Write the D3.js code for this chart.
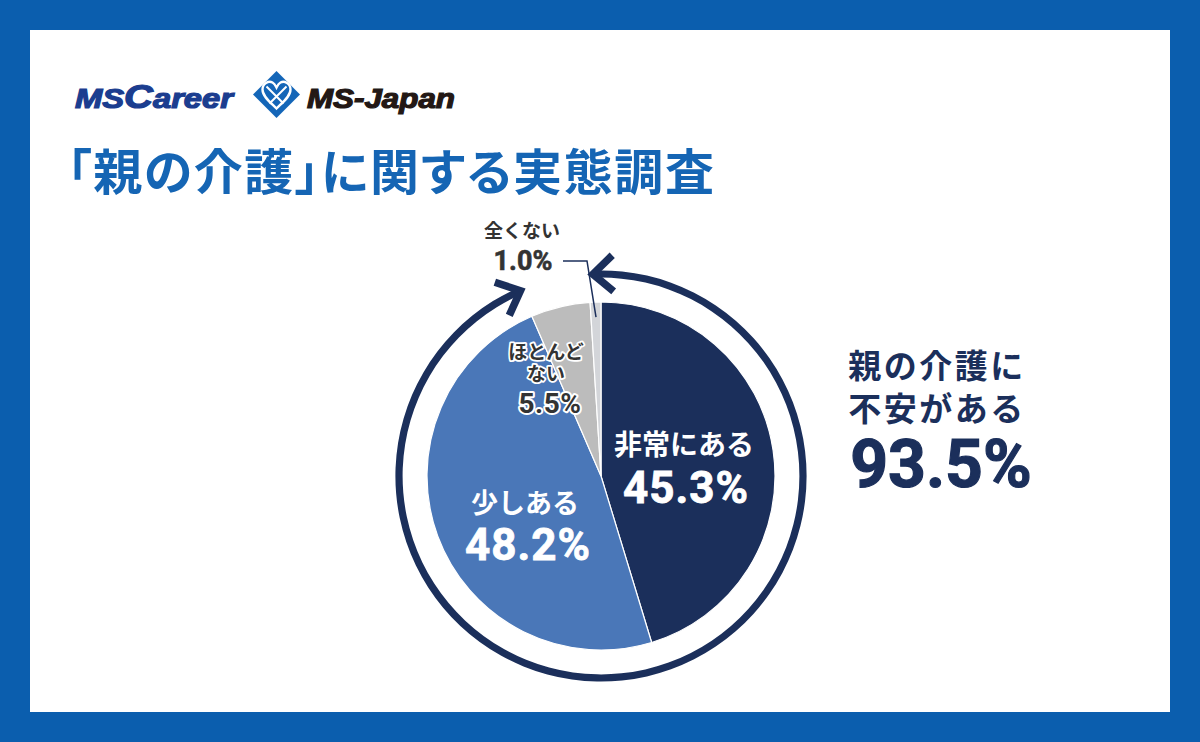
<!DOCTYPE html>
<html><head><meta charset="utf-8">
<script src="https://cdn.jsdelivr.net/npm/d3@7"></script>
<style>
html,body{margin:0;padding:0;background:#0b5eae;}
svg{display:block;}
</style></head>
<body>
<svg id="c" width="1200" height="742"></svg>
<script>
// ---- data ----
const categories = ["非常にある", "少しある", "ほとんどない", "全くない"];
const values = [45.3, 48.2, 5.5, 1.0];
const valueLabels = ["45.3%", "48.2%", "5.5%", "1.0%"];
const colors = ["#1b2f5b", "#4a77b8", "#bcbcbc", "#d3d5d9"];
const totalLabel = "93.5%";
const totalTextLines = ["親の介護に", "不安がある"];
const title = "「親の介護」に関する実態調査";

const svg = d3.select("#c");
const JP = "'Noto Sans CJK JP','Noto Sans',sans-serif";
const NUM = "Roboto,'Noto Sans',sans-serif";
const navy = "#1b2f5b";

// frame
svg.append("rect").attr("x",0).attr("y",0).attr("width",1200).attr("height",742).attr("fill","#0b5eae");
svg.append("rect").attr("x",30).attr("y",30).attr("width",1140).attr("height",682).attr("fill","#fff");

// logo
const mc = svg.append("text").attr("x",75).attr("y",108).attr("font-family","'Liberation Sans',Arial,sans-serif")
  .attr("font-weight",700).attr("font-style","italic").attr("font-size",27).attr("fill","#1b3d8f")
  .attr("stroke","#1b3d8f").attr("stroke-width",1.2).attr("textLength",158).attr("lengthAdjust","spacingAndGlyphs");
mc.append("tspan").text("MS");
mc.append("tspan").attr("font-size",33).text("C");
mc.append("tspan").text("areer");
const lg = svg.append("g").attr("transform","translate(276.5,94.5)");
lg.append("rect").attr("x",-16.6).attr("y",-16.6).attr("width",33.2).attr("height",33.2)
  .attr("transform","rotate(45)").attr("fill","#1466b8");
lg.append("path").attr("d","M0,14 C-6,8 -14,2 -14,-5 C-14,-11 -8,-14 -4,-12 C-2,-11 -1,-9 0,-7 C1,-9 2,-11 4,-12 C8,-14 14,-11 14,-5 C14,2 6,8 0,14 Z")
  .attr("fill","none").attr("stroke","#fff").attr("stroke-width",2.4);
lg.append("path").attr("d","M-10,-8 L7,9 M10,-8 L-7,9").attr("stroke","#fff").attr("stroke-width",2);
svg.append("text").attr("x",307).attr("y",108).attr("font-family","'Liberation Sans',Arial,sans-serif")
  .attr("font-weight",700).attr("font-style","italic").attr("font-size",27).attr("fill","#231815")
  .attr("stroke","#231815").attr("stroke-width",1.2).attr("textLength",148).attr("lengthAdjust","spacingAndGlyphs")
  .text("MS-Japan");

// title
svg.append("text").attr("x",67).attr("y",190).attr("font-family",JP).attr("font-weight",700)
  .attr("font-size",49).attr("fill","#1565b4").style("font-feature-settings","'palt' 1")
  .attr("textLength",647).attr("lengthAdjust","spacing")
  .text(title);

// pie
const cx = 601, cy = 476, R = 174;
const g = svg.append("g").attr("transform",`translate(${cx},${cy})`);
const pie = d3.pie().sort(null).value(d=>d)(values);
const arc = d3.arc().innerRadius(0).outerRadius(R);
g.selectAll("path.s").data(pie).join("path").attr("class","s")
  .attr("d",arc).attr("fill",(d,i)=>colors[i]).attr("stroke","#fff").attr("stroke-width",1.2);

// surrounding arrow ring
const rr = 202;
const deg = Math.PI/180;
const a1 = -2.3*deg, a2 = 2*Math.PI - 23.5*deg;
const ring = d3.arc().innerRadius(rr-3.6).outerRadius(rr+3.6).startAngle(a1+1.2*deg).endAngle(a2-1.2*deg);
g.append("path").attr("d",ring()).attr("fill",navy);
function pt(a,r){return [r*Math.sin(a), -r*Math.cos(a)];}
function chevron(a, dirSign){
  const [x,y] = pt(a,rr);
  const tx = Math.cos(a)*dirSign, ty = Math.sin(a)*dirSign;
  const bx = -tx, by = -ty;
  const L = 27, ang = 42*deg;
  const rot=(vx,vy,t)=>[vx*Math.cos(t)-vy*Math.sin(t), vx*Math.sin(t)+vy*Math.cos(t)];
  const p1 = rot(bx,by,ang), p2 = rot(bx,by,-ang);
  g.append("path").attr("d",`M${x+p1[0]*L},${y+p1[1]*L} L${x},${y} L${x+p2[0]*L},${y+p2[1]*L}`)
    .attr("fill","none").attr("stroke",navy).attr("stroke-width",7.5).attr("stroke-linejoin","miter").attr("stroke-miterlimit",10);
}
chevron(a1,-1);
chevron(a2,1);

// labels
function lbl(x,y,txt,size,fill,family,opts){
  opts = opts||{};
  const t = svg.append("text").attr("x",x).attr("y",y).attr("text-anchor","middle")
    .attr("font-family",family).attr("font-weight",700).attr("font-size",size).attr("fill",fill).text(txt);
  if(opts.halo){ t.attr("stroke","#fff").attr("stroke-width",opts.halo).attr("paint-order","stroke").attr("stroke-linejoin","round"); }
  else if(opts.bold){ t.attr("stroke",fill).attr("stroke-width",opts.bold); }
  if(opts.ls) t.attr("letter-spacing",opts.ls);
  return t;
}
lbl(684,455,categories[0],28,"#fff",JP);
lbl(686,503,valueLabels[0],44,"#fff",NUM,{bold:0.8,ls:1});
lbl(525,513,categories[1],27,"#fff",JP);
lbl(528,560,valueLabels[1],44,"#fff",NUM,{bold:0.8,ls:1});
lbl(546,359,"ほとんど",19,"#333",JP,{halo:3.5});
lbl(546,381,"ない",19,"#333",JP,{halo:3.5});
lbl(550,413,valueLabels[2],28,"#333",NUM,{halo:4,ls:0.5});
lbl(522,238,categories[3],19,"#333",JP);
lbl(523,270,valueLabels[3],27,"#333",NUM,{bold:0.6});

// leader line for 全くない
const sl = pie[3];
const lp = pt((sl.startAngle+sl.endAngle)/2, R-15);
svg.append("path").attr("d",`M563,261 L587,261 L${cx+lp[0]},${cy+lp[1]}`)
  .attr("fill","none").attr("stroke",navy).attr("stroke-width",1.5);

// right summary
lbl(937,378,totalTextLines[0],33,navy,JP,{ls:2.5});
lbl(937,421,totalTextLines[1],33,navy,JP,{ls:2.5});
lbl(941,487,totalLabel,66,navy,NUM,{bold:1.2});
</script>
</body></html>
